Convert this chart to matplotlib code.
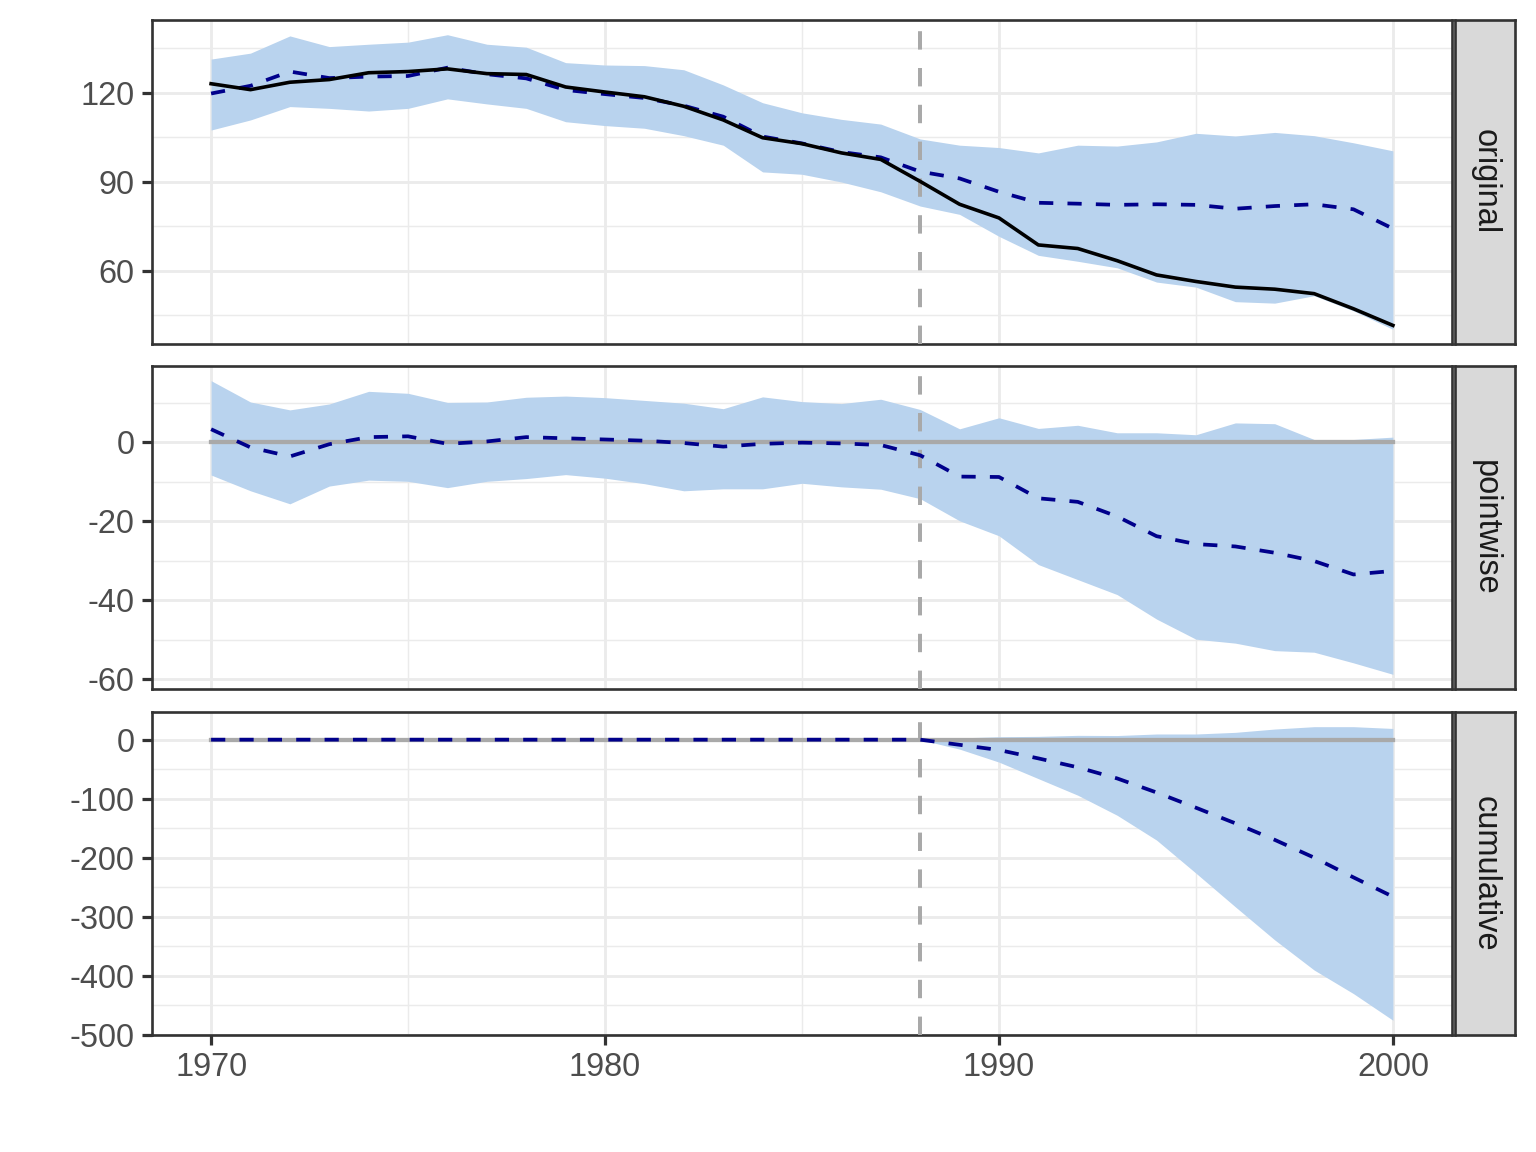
import numpy as np
import matplotlib
matplotlib.use("Agg")
import matplotlib.pyplot as plt

plt.rcParams['font.family'] = ['Liberation Sans', 'DejaVu Sans']
plt.rcParams['axes.unicode_minus'] = False

# data
years = np.arange(1970, 2001)
actual = [123.0, 121.0, 123.5, 124.4, 126.7, 127.1, 128.0, 126.4, 126.1, 121.9,
          120.2, 118.6, 115.4, 110.8, 104.8, 102.8, 99.7, 97.5, 90.1, 82.4,
          77.8, 68.7, 67.5, 63.4, 58.6, 56.4, 54.5, 53.8, 52.3, 47.2, 41.6]
pred = [119.7, 122.3, 127.1, 124.9, 125.4, 125.6, 128.4, 126.2, 124.8, 120.9,
        119.5, 118.2, 115.6, 111.9, 105.2, 102.9, 100.0, 98.2, 93.4, 91.1,
        86.6, 82.9, 82.6, 82.2, 82.4, 82.2, 80.9, 81.8, 82.4, 80.7, 74.2]
pred_lower = [107.4, 110.8, 115.3, 114.7, 113.8, 114.7, 117.9, 116.2, 114.7, 110.2,
              108.9, 108.0, 105.5, 102.3, 93.3, 92.5, 89.9, 86.6, 81.8, 79.0,
              71.6, 65.2, 63.2, 61.0, 56.2, 54.5, 49.6, 49.1, 51.6, 46.5, 40.3]
pred_upper = [131.3, 133.3, 139.1, 135.5, 136.3, 137.0, 139.5, 136.3, 135.3, 130.1,
              129.3, 129.1, 127.7, 122.6, 116.6, 113.2, 111.0, 109.4, 104.4, 102.3,
              101.5, 99.7, 102.3, 102.0, 103.4, 106.3, 105.4, 106.6, 105.5, 103.1, 100.4]
last_pre = 1988
cum_years = np.arange(1988, 2001)
cum_lower = [0, -16, -38, -66, -94, -128, -170, -226, -283, -339, -390, -430, -475]
cum_upper = [0, 3, 5, 5.6, 7.3, 7, 9.6, 9.6, 12.4, 18, 22, 22, 19]

actual = np.array(actual)
pred = np.array(pred)
pred_lower = np.array(pred_lower)
pred_upper = np.array(pred_upper)

# pointwise effect and its interval
point = actual - pred
point_lower = actual - pred_upper
point_upper = actual - pred_lower
post = years > last_pre
cum = np.where(post, np.cumsum(np.where(post, point, 0)), 0)

band_col = '#B9D3EE'
navy = '#00008B'
dgray = '#A9A9A9'
edge = '#333333'
dash = (0, (3.8, 3.8))
vdash = (0, (4.6, 4.6))

W, H = 1536, 1152
fig = plt.figure(figsize=(8, 6), dpi=192)

def fx(px):
    return px / W

def fy(py):
    return 1 - py / H

panels = [(20, 344), (366, 689), (712, 1035)]
labels = ['original', 'pointwise', 'cumulative']
majors = [[60, 90, 120], [-60, -40, -20, 0], [-500, -400, -300, -200, -100, 0]]
minors = [[45, 75, 105, 135], [-50, -30, -10, 10], [-450, -350, -250, -150, -50]]

axes = []
for i, (top, bot) in enumerate(panels):
    ax = fig.add_axes([fx(152), fy(bot), fx(1452) - fx(152), fy(top) - fy(bot)])
    axes.append(ax)
    sax = fig.add_axes([fx(1455), fy(bot), fx(1515) - fx(1455), fy(top) - fy(bot)])
    sax.set_facecolor('#D9D9D9')
    sax.set_xticks([])
    sax.set_yticks([])
    for s in sax.spines.values():
        s.set_color(edge)
        s.set_linewidth(1.0)
    sax.text(0.5, 0.5, labels[i], rotation=-90, ha='center', va='center',
             fontsize=12.2, color='#1A1A1A', transform=sax.transAxes)

def expand(lo, hi):
    r = hi - lo
    return lo - 0.05 * r, hi + 0.05 * r

# original
ax = axes[0]
ax.fill_between(years, pred_lower, pred_upper, color=band_col, lw=0, zorder=2)
ax.axvline(last_pre, color=dgray, lw=1.5, ls=vdash, zorder=3)
ax.plot(years, pred, color=navy, lw=1.4, ls=dash, zorder=4)
ax.plot(years, actual, color='black', lw=1.35, zorder=5)
ax.set_ylim(*expand(min(pred_lower.min(), actual.min()), max(pred_upper.max(), actual.max())))

# pointwise
ax = axes[1]
ax.fill_between(years, point_lower, point_upper, color=band_col, lw=0, zorder=2)
ax.plot(years, np.zeros(len(years)), color=dgray, lw=1.6, zorder=3)
ax.axvline(last_pre, color=dgray, lw=1.5, ls=vdash, zorder=3)
ax.plot(years, point, color=navy, lw=1.4, ls=dash, zorder=4)
ax.set_ylim(*expand(point_lower.min(), point_upper.max()))

# cumulative
ax = axes[2]
ax.fill_between(cum_years, cum_lower, cum_upper, color=band_col, lw=0, zorder=2)
ax.plot(years, np.zeros(len(years)), color=dgray, lw=1.6, zorder=3)
ax.axvline(last_pre, color=dgray, lw=1.5, ls=vdash, zorder=3)
ax.plot(years, cum, color=navy, lw=1.4, ls=dash, zorder=4)
ax.set_ylim(*expand(min(cum_lower), max(cum_upper)))

for i, ax in enumerate(axes):
    ax.set_xlim(*expand(1970, 2000))
    ax.set_xticks([1970, 1980, 1990, 2000])
    ax.set_xticks([1975, 1985, 1995], minor=True)
    ax.set_yticks(majors[i])
    ax.set_yticks(minors[i], minor=True)
    ax.grid(which='major', color='#EBEBEB', lw=1.07, zorder=0)
    ax.grid(which='minor', color='#EBEBEB', lw=0.53, zorder=0)
    ax.set_axisbelow(True)
    ax.tick_params(which='major', length=3.9, width=1.2, color=edge,
                   labelsize=12.2, labelcolor='#4D4D4D', pad=2.6)
    ax.tick_params(which='minor', length=0)
    ax.tick_params(axis='x', which='both', bottom=(i == 2), labelbottom=(i == 2))
    for s in ax.spines.values():
        s.set_color(edge)
        s.set_linewidth(1.0)

fig.savefig('out.png', dpi=192)
